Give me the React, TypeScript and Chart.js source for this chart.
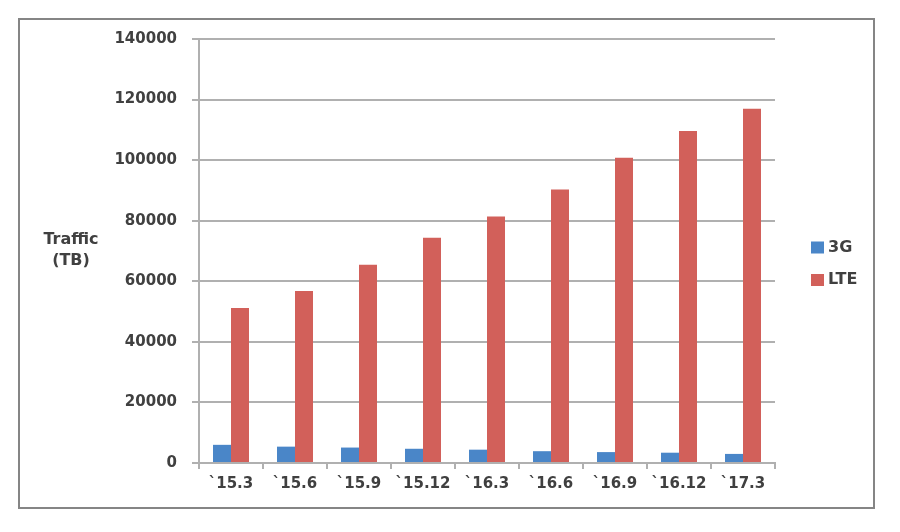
import React, { useEffect, useRef } from 'react';
import { Chart, registerables } from 'chart.js';

Chart.register(...registerables);

const periods = ['`15.3', '`15.6', '`15.9', '`15.12', '`16.3', '`16.6', '`16.9', '`16.12', '`17.3'];
const traffic3G = [6000, 5400, 5100, 4700, 4400, 3900, 3600, 3400, 3000];
const trafficLTE = [51200, 56800, 65500, 74400, 81400, 90300, 100800, 109600, 117000];
const seriesNames = ['3G', 'LTE'];
const axisTitle = ['Traffic', '(TB)'];

const FONT = "'DejaVu Sans', Verdana, sans-serif";
const TEXT = '#404040';
const GRID = '#b0b0b0';

// y-axis title (horizontal) and legend drawn beside the plot
const sideText = {
    id: 'sideText',
    afterDraw(chart: any) {
        const { ctx, chartArea } = chart;
        const midY = (chartArea.top + chartArea.bottom) / 2;
        ctx.save();
        ctx.font = `bold 16px ${FONT}`;
        ctx.fillStyle = TEXT;
        ctx.textAlign = 'center';
        ctx.textBaseline = 'middle';
        ctx.fillText(axisTitle[0], chartArea.left - 128, midY - 11);
        ctx.fillText(axisTitle[1], chartArea.left - 128, midY + 10);

        ctx.textAlign = 'left';
        chart.data.datasets.forEach((ds: any, i: number) => {
            const x = chartArea.right + 36;
            const y = midY - 3.5 + i * 32.5;
            ctx.fillStyle = ds.backgroundColor;
            ctx.fillRect(x, y - 6, 13, 12);
            ctx.fillStyle = TEXT;
            ctx.fillText(ds.label, x + 17, y);
        });
        ctx.restore();
    }
};

const TrafficChart: React.FC = () => {
    const chartRef = useRef<HTMLCanvasElement>(null);
    const chartInstanceRef = useRef<Chart | null>(null);

    useEffect(() => {
        if (!chartRef.current) return;
        if (chartInstanceRef.current) chartInstanceRef.current.destroy();

        chartInstanceRef.current = new Chart(chartRef.current, {
            type: 'bar',
            data: {
                labels: periods,
                datasets: [
                    { label: seriesNames[0], data: traffic3G, backgroundColor: '#4a86c8' },
                    { label: seriesNames[1], data: trafficLTE, backgroundColor: '#d2605a' },
                ],
            },
            options: {
                animation: false,
                responsive: false,
                layout: { padding: { top: 19, right: 98, left: 0, bottom: 0 } },
                datasets: {
                    bar: { categoryPercentage: 0.5625, barPercentage: 1 },
                },
                scales: {
                    x: {
                        afterFit: (s: any) => {
                            s.height = 44;
                            s.paddingLeft = 0;
                            s.paddingRight = 0;
                        },
                        grid: {
                            display: true,
                            drawOnChartArea: false,
                            drawTicks: true,
                            tickLength: 6,
                            color: GRID,
                            lineWidth: 2,
                        },
                        border: { display: true, color: GRID, width: 2 },
                        ticks: {
                            padding: 6,
                            color: TEXT,
                            font: { family: FONT, size: 15, weight: 'bold' },
                            maxRotation: 0,
                            autoSkip: false,
                        },
                    },
                    y: {
                        min: 0,
                        max: 140000,
                        afterFit: (s: any) => {
                            s.width = 179;
                            s.paddingTop = 0;
                            s.paddingBottom = 0;
                        },
                        grid: {
                            color: GRID,
                            lineWidth: 2,
                            tickLength: 7,
                        },
                        border: { display: true, color: GRID, width: 2 },
                        ticks: {
                            stepSize: 20000,
                            padding: 15,
                            color: TEXT,
                            font: { family: FONT, size: 15, weight: 'bold' },
                            callback: (v: any) => String(v),
                        },
                    },
                },
                plugins: {
                    legend: { display: false },
                    tooltip: { enabled: false },
                },
            },
            plugins: [sideText],
        });

        return () => {
            if (chartInstanceRef.current) {
                chartInstanceRef.current.destroy();
                chartInstanceRef.current = null;
            }
        };
    }, []);

    return <canvas ref={chartRef} width={853} height={487} />;
};

export default function App() {
    return (
        <div style={{ position: 'absolute', left: 0, top: 0, width: 900, height: 532, background: '#fff' }}>
            <div
                style={{
                    position: 'absolute',
                    left: 18,
                    top: 18,
                    width: 853,
                    height: 487,
                    border: '2px solid #858585',
                }}
            >
                <TrafficChart />
            </div>
        </div>
    );
}
